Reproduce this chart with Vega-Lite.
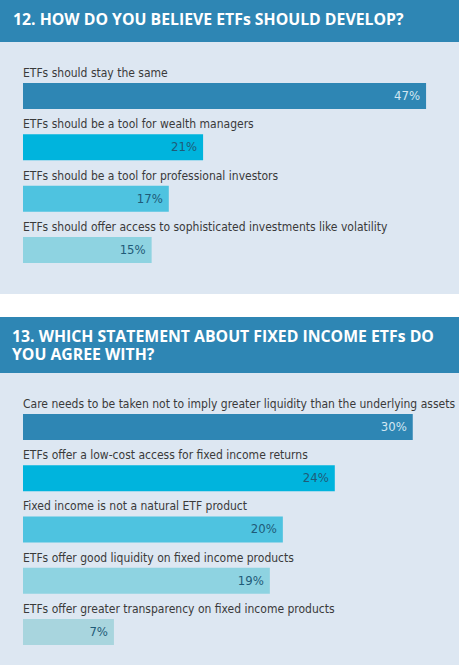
{
  "$schema": "https://vega.github.io/schema/vega-lite/v6.json",
  "background": "white",
  "padding": 0,
  "spacing": 23,
  "config": {
    "view": {"stroke": null},
    "concat": {"spacing": 0},
    "text": {"font": "DejaVu Sans Condensed"}
  },
  "datasets": {
    "q12": [
      {"rank": 1, "label": "ETFs should stay the same", "pct": 0.47},
      {"rank": 2, "label": "ETFs should be a tool for wealth managers", "pct": 0.21},
      {"rank": 3, "label": "ETFs should be a tool for professional investors", "pct": 0.17},
      {"rank": 4, "label": "ETFs should offer access to sophisticated investments like volatility", "pct": 0.15}
    ],
    "q13": [
      {"rank": 1, "label": "Care needs to be taken not to imply greater liquidity than the underlying assets", "pct": 0.30},
      {"rank": 2, "label": "ETFs offer a low-cost access for fixed income returns", "pct": 0.24},
      {"rank": 3, "label": "Fixed income is not a natural ETF product", "pct": 0.20},
      {"rank": 4, "label": "ETFs offer good liquidity on fixed income products", "pct": 0.19},
      {"rank": 5, "label": "ETFs offer greater transparency on fixed income products", "pct": 0.07}
    ]
  },
  "vconcat": [
    {
      "spacing": 0,
      "vconcat": [
        {
          "width": 459,
          "height": 42,
          "view": {"fill": "#2e86b4", "stroke": null},
          "title": {
            "text": "12. HOW DO YOU BELIEVE ETFs SHOULD DEVELOP?",
            "orient": "top",
            "anchor": "start",
            "frame": "group",
            "baseline": "top",
            "offset": -29,
            "dx": 13,
            "color": "#ffffff",
            "font": "Open Sans",
            "fontSize": 15.8,
            "fontWeight": "bold"
          },
          "data": {"values": []},
          "mark": "rect",
          "encoding": {}
        },
        {
          "width": 459,
          "height": 252,
          "view": {"fill": "#dde7f2", "stroke": null},
          "data": {"name": "q12"},
          "encoding": {
            "y": {
              "field": "label",
              "type": "nominal",
              "sort": {"field": "rank"},
              "axis": null,
              "scale": {"paddingInner": 0.4935, "paddingOuter": 0.7015, "align": 0.569}
            }
          },
          "layer": [
            {
              "mark": {"type": "bar"},
              "encoding": {
                "x": {"field": "pct", "type": "quantitative", "axis": null, "scale": {"domain": [0, 0.5084], "range": [23, 459], "nice": false, "zero": false}},
                "color": {"field": "rank", "type": "ordinal", "legend": null, "scale": {"domain": [1, 2, 3, 4, 5], "range": ["#2e86b4", "#00b4dd", "#4ec3e0", "#8ed3e1", "#a8d5de"]}}
              }
            },
            {
              "mark": {"type": "text", "align": "left", "baseline": "alphabetic", "dy": -6, "fontSize": 12, "color": "#3a3a3a"},
              "encoding": {
                "y": {"field": "label", "type": "nominal", "sort": {"field": "rank"}, "bandPosition": 0},
                "x": {"datum": 0, "type": "quantitative"},
                "text": {"field": "label"}
              }
            },
            {
              "mark": {"type": "text", "align": "right", "baseline": "middle", "dx": -6, "fontSize": 13},
              "encoding": {
                "x": {"field": "pct", "type": "quantitative"},
                "text": {"field": "pct", "format": ".0%"},
                "color": {"condition": {"test": "datum.rank === 1", "value": "#d2e6f2"}, "value": "#1f5b78"}
              }
            }
          ]
        }
      ]
    },
    {
      "spacing": 0,
      "vconcat": [
        {
          "width": 459,
          "height": 56,
          "view": {"fill": "#2e86b4", "stroke": null},
          "title": {
            "text": ["13. WHICH STATEMENT ABOUT FIXED INCOME ETFs DO", "YOU AGREE WITH?"],
            "orient": "top",
            "anchor": "start",
            "frame": "group",
            "baseline": "top",
            "offset": -47,
            "dx": 12,
            "lineHeight": 18,
            "color": "#ffffff",
            "font": "Open Sans",
            "fontSize": 15.8,
            "fontWeight": "bold"
          },
          "data": {"values": []},
          "mark": "rect",
          "encoding": {}
        },
        {
          "width": 459,
          "height": 292,
          "view": {"fill": "#dde7f2", "stroke": null},
          "data": {"name": "q13"},
          "encoding": {
            "y": {
              "field": "label",
              "type": "nominal",
              "sort": {"field": "rank"},
              "axis": null,
              "scale": {"paddingInner": 0.4927, "paddingOuter": 0.595, "align": 0.672}
            }
          },
          "layer": [
            {
              "mark": {"type": "bar"},
              "encoding": {
                "x": {"field": "pct", "type": "quantitative", "axis": null, "scale": {"domain": [0, 0.3356], "range": [23, 459], "nice": false, "zero": false}},
                "color": {"field": "rank", "type": "ordinal", "legend": null, "scale": {"domain": [1, 2, 3, 4, 5], "range": ["#2e86b4", "#00b4dd", "#4ec3e0", "#8ed3e1", "#a8d5de"]}}
              }
            },
            {
              "mark": {"type": "text", "align": "left", "baseline": "alphabetic", "dy": -6, "fontSize": 12, "color": "#3a3a3a"},
              "encoding": {
                "y": {"field": "label", "type": "nominal", "sort": {"field": "rank"}, "bandPosition": 0},
                "x": {"datum": 0, "type": "quantitative"},
                "text": {"field": "label"}
              }
            },
            {
              "mark": {"type": "text", "align": "right", "baseline": "middle", "dx": -6, "fontSize": 13},
              "encoding": {
                "x": {"field": "pct", "type": "quantitative"},
                "text": {"field": "pct", "format": ".0%"},
                "color": {"condition": {"test": "datum.rank === 1", "value": "#d2e6f2"}, "value": "#1f5b78"}
              }
            }
          ]
        }
      ]
    }
  ]
}
